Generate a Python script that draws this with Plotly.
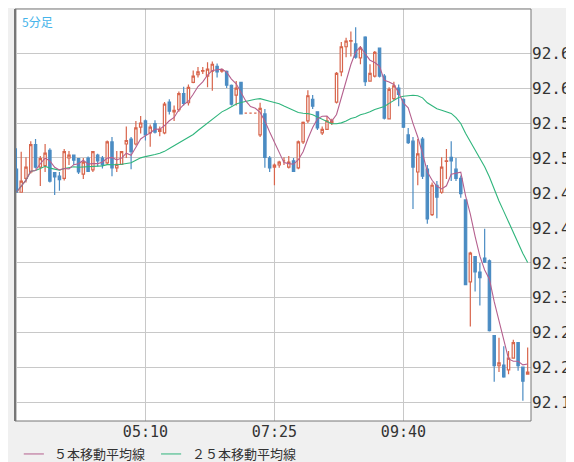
import plotly.graph_objects as go
import pandas as pd

opens = [92.484,92.451,92.471,92.480,92.519,92.487,92.489,92.511,92.479,92.474,
         92.471,92.500,92.504,92.499,92.477,92.500,92.483,92.504,92.500,92.493,
         92.523,92.486,92.491,92.520,92.527,92.520,92.544,92.553,92.536,92.549,
         92.538,92.536,92.580,92.566,92.569,92.592,92.579,92.608,92.619,92.624,
         92.617,92.624,92.631,92.624,92.624,92.604,92.590,92.608,92.564,92.564,
         92.564,92.533,92.563,92.500,92.487,92.490,92.496,92.487,92.496,92.486,
         92.523,92.553,92.584,92.566,92.536,92.541,92.550,92.580,92.623,92.659,
         92.667,92.663,92.643,92.673,92.610,92.617,92.657,92.617,92.556,92.585,
         92.600,92.584,92.533,92.524,92.480,92.527,92.484,92.419,92.461,92.451,
         92.495,92.501,92.484,92.471,92.440,92.323,92.359,92.337,92.357,92.353,
         92.246,92.203,92.204,92.197,92.214,92.236,92.201,92.191]
highs = [92.514,92.509,92.501,92.524,92.527,92.503,92.520,92.514,92.480,92.480,
         92.513,92.510,92.505,92.500,92.500,92.502,92.510,92.506,92.503,92.525,
         92.530,92.510,92.510,92.545,92.530,92.553,92.560,92.555,92.548,92.554,
         92.545,92.580,92.584,92.575,92.595,92.602,92.605,92.625,92.630,92.630,
         92.637,92.638,92.635,92.628,92.625,92.605,92.610,92.609,92.564,92.564,
         92.564,92.579,92.570,92.503,92.492,92.496,92.501,92.503,92.500,92.525,
         92.552,92.597,92.590,92.567,92.545,92.560,92.556,92.623,92.666,92.672,
         92.681,92.687,92.660,92.674,92.634,92.653,92.658,92.620,92.601,92.609,
         92.605,92.585,92.543,92.530,92.527,92.530,92.490,92.465,92.467,92.501,
         92.513,92.524,92.500,92.475,92.441,92.366,92.360,92.350,92.399,92.355,
         92.247,92.243,92.231,92.224,92.240,92.237,92.202,92.229]
lows = [92.451,92.451,92.465,92.478,92.485,92.460,92.480,92.465,92.447,92.453,
        92.468,92.490,92.490,92.477,92.470,92.480,92.480,92.488,92.485,92.490,
        92.474,92.480,92.490,92.500,92.484,92.518,92.535,92.525,92.516,92.535,
        92.531,92.534,92.562,92.553,92.566,92.575,92.575,92.607,92.615,92.620,
        92.601,92.596,92.615,92.622,92.600,92.575,92.575,92.562,92.564,92.564,
        92.564,92.530,92.486,92.480,92.461,92.486,92.490,92.485,92.480,92.484,
        92.520,92.550,92.570,92.540,92.533,92.540,92.547,92.578,92.617,92.644,
        92.645,92.642,92.634,92.603,92.609,92.615,92.615,92.555,92.555,92.583,
        92.574,92.543,92.520,92.427,92.461,92.470,92.406,92.417,92.414,92.449,
        92.470,92.467,92.467,92.443,92.318,92.259,92.309,92.289,92.350,92.252,
        92.180,92.194,92.186,92.191,92.213,92.196,92.153,92.190]
closes = [92.451,92.467,92.487,92.519,92.487,92.499,92.507,92.467,92.473,92.469,
          92.509,92.504,92.497,92.480,92.494,92.481,92.509,92.496,92.490,92.523,
          92.486,92.491,92.509,92.525,92.509,92.543,92.550,92.533,92.544,92.537,
          92.541,92.577,92.567,92.568,92.592,92.578,92.601,92.617,92.623,92.625,
          92.627,92.634,92.623,92.626,92.604,92.577,92.600,92.563,92.564,92.564,
          92.564,92.571,92.501,92.486,92.490,92.494,92.496,92.494,92.481,92.523,
          92.551,92.589,92.574,92.543,92.541,92.553,92.553,92.621,92.659,92.667,
          92.668,92.644,92.657,92.609,92.621,92.651,92.617,92.557,92.598,92.603,
          92.591,92.544,92.522,92.487,92.506,92.474,92.413,92.461,92.444,92.487,
          92.496,92.496,92.471,92.449,92.319,92.364,92.337,92.329,92.351,92.253,
          92.203,92.207,92.187,92.214,92.236,92.203,92.181,92.194]
tick_pos = [0, 27, 54, 81]
tick_text = ["", "05:10", "07:25", "09:40"]
price_ticks = [92.15, 92.20, 92.25, 92.30, 92.35, 92.40, 92.45, 92.50, 92.55, 92.60, 92.65]

idx = list(range(len(closes)))
s = pd.Series(closes)
ma5 = s.rolling(5, min_periods=1).mean()
ma25 = s.rolling(25, min_periods=1).mean()

RED = "#d8654c"
BLUE = "#4b8cc3"
C5 = "#b5608e"
C25 = "#2fb57c"

fig = go.Figure()
fig.add_trace(go.Candlestick(
    x=idx, open=opens, high=highs, low=lows, close=closes,
    increasing=dict(line=dict(color=RED, width=1.2), fillcolor="white"),
    decreasing=dict(line=dict(color=BLUE, width=1.2), fillcolor=BLUE),
    whiskerwidth=0, showlegend=False, hoverinfo="skip"))
fig.add_trace(go.Scatter(x=idx, y=ma25, mode="lines", line=dict(color=C25, width=1.1),
                         showlegend=False, hoverinfo="skip"))
fig.add_trace(go.Scatter(x=idx, y=ma5, mode="lines", line=dict(color=C5, width=1.1),
                         showlegend=False, hoverinfo="skip"))

LY = -0.08
fig.update_layout(
    width=574, height=462,
    margin=dict(l=7, r=51, t=1, b=49),
    paper_bgcolor="#f0f0f0", plot_bgcolor="white",
    font=dict(family="DejaVu Sans Mono", size=15, color="#333"),
    xaxis=dict(range=[-0.3, 107.7], tickvals=tick_pos, ticktext=tick_text,
               showgrid=True, gridcolor="#c8c8c8", gridwidth=1, zeroline=False,
               rangeslider=dict(visible=False), ticks="", tickfont=dict(size=15),
               automargin=False, fixedrange=True),
    yaxis=dict(range=[92.124, 92.713], side="right", tickvals=price_ticks,
               tickformat=".2f", showgrid=True, gridcolor="#c8c8c8", gridwidth=1,
               zeroline=False, ticks="", tickfont=dict(size=16),
               automargin=False, fixedrange=True),
    shapes=[
        dict(type="rect", xref="paper", yref="paper", x0=0, x1=1, y0=0, y1=1,
             line=dict(color="#777", width=1)),
        dict(type="line", xref="paper", yref="paper", x0=0, x1=0, y0=0, y1=1,
             line=dict(color="#777", width=2)),
        dict(type="line", xref="paper", yref="paper", x0=0.017, x1=0.056, y0=LY, y1=LY,
             line=dict(color=C5, width=1)),
        dict(type="line", xref="paper", yref="paper", x0=0.283, x1=0.322, y0=LY, y1=LY,
             line=dict(color=C25, width=1)),
    ],
    annotations=[
        dict(text="5分足", xref="paper", yref="paper", x=0.01, y=0.995, xanchor="left",
             yanchor="top", showarrow=False,
             font=dict(family="Noto Sans CJK JP", size=12, color="#45b4ea")),
        dict(text="５本移動平均線", xref="paper", yref="paper", x=0.072, y=LY,
             xanchor="left", yanchor="middle", showarrow=False,
             font=dict(family="Noto Sans CJK JP", size=13, color="#333")),
        dict(text="２５本移動平均線", xref="paper", yref="paper", x=0.339, y=LY,
             xanchor="left", yanchor="middle", showarrow=False,
             font=dict(family="Noto Sans CJK JP", size=13, color="#333")),
    ],
)
fig.write_html("out.html")
